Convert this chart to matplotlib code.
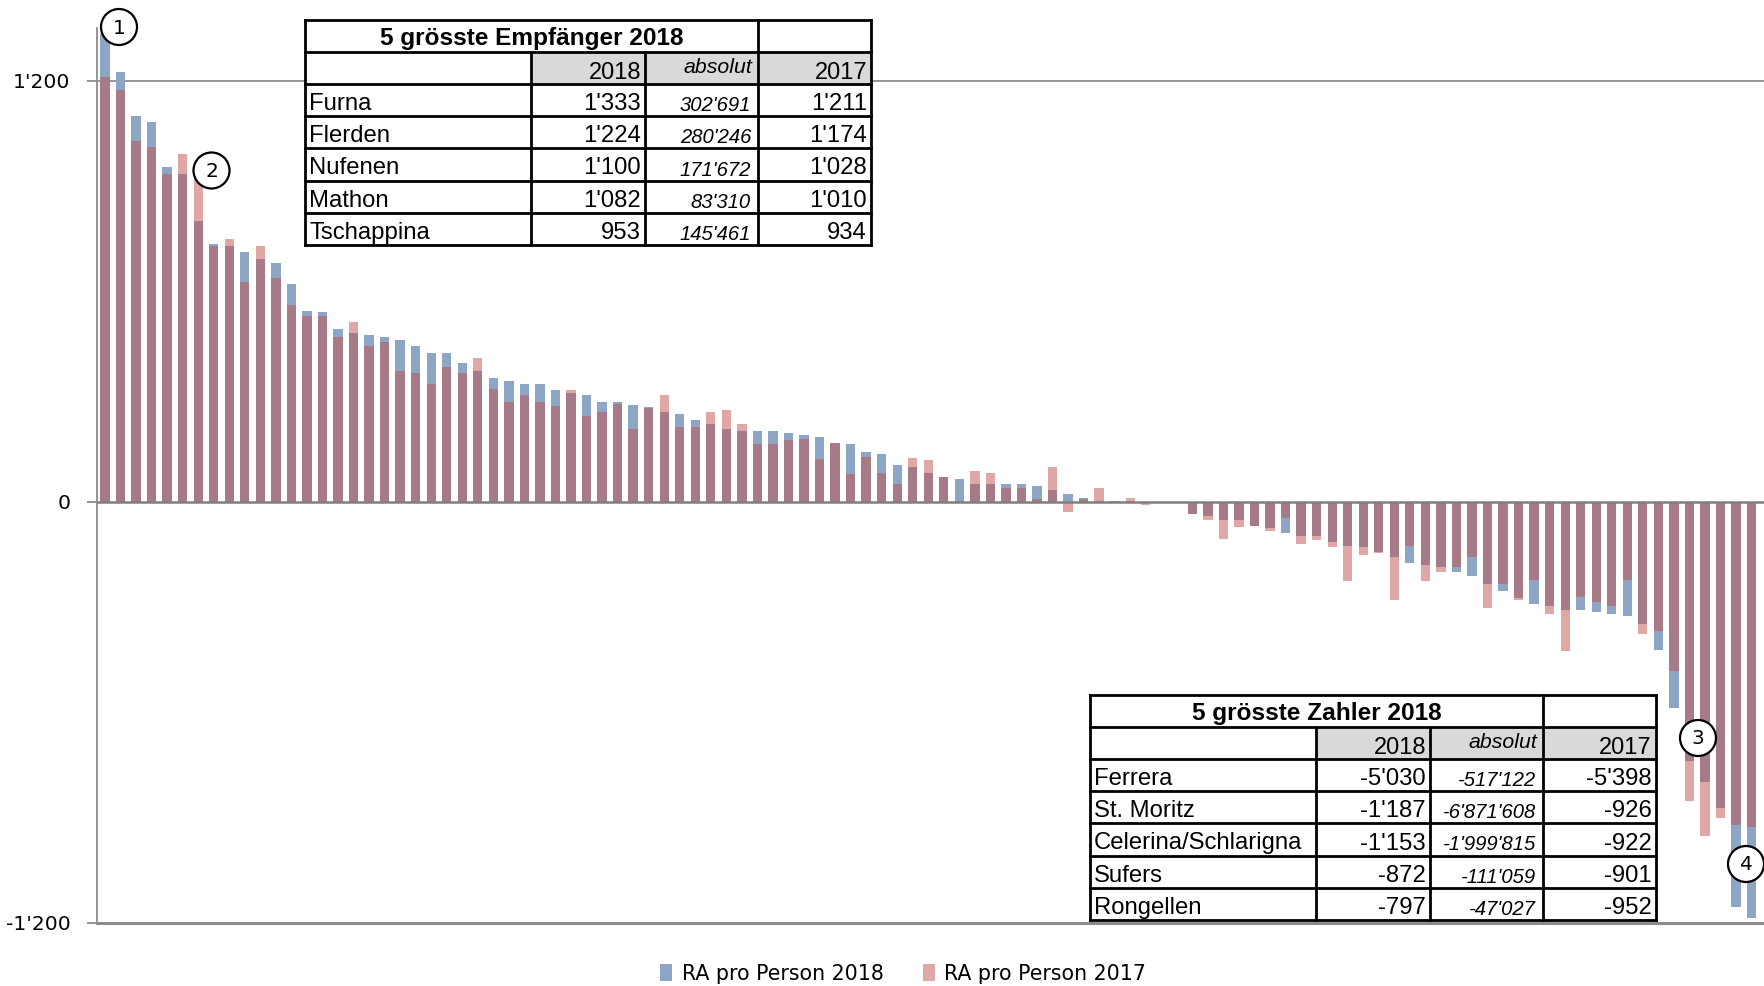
import matplotlib
matplotlib.use("Agg")
import matplotlib.pyplot as plt
from matplotlib.patches import Patch, Rectangle, Circle
import numpy as np

# ---------------- data ----------------
ra_2018 = [1333, 1224, 1100, 1082, 953, 934, 799, 734, 728, 712,
           691, 680, 620, 545, 540, 491, 481, 476, 470, 460,
           443, 423, 423, 395, 374, 352, 343, 336, 336, 320,
           309, 304, 283, 283, 277, 271, 255, 250, 234, 223,
           207, 202, 202, 202, 196, 190, 186, 169, 164, 142,
           137, 105, 99, 83, 71, 66, 50, 50, 50, 50,
           45, 34, 23, 12, 3, 3, 1, -2, 0, 0,
           -36, -41, -51, -51, -68, -74, -88, -98, -98, -115,
           -126, -130, -142, -158, -173, -180, -185, -200, -211, -233,
           -254, -275, -291, -298, -308, -308, -313, -319, -324, -347,
           -421, -588, -738, -797, -872, -1153, -1187]
ra_2017 = [1211, 1174, 1028, 1010, 934, 992, 945, 728, 750, 626,
           728, 637, 562, 529, 529, 469, 513, 443, 455, 374,
           368, 336, 384, 368, 410, 321, 283, 304, 283, 272,
           320, 245, 255, 278, 207, 266, 304, 212, 212, 255,
           261, 223, 164, 164, 175, 180, 121, 169, 78, 127,
           83, 50, 125, 120, 71, 3, 88, 83, 39, 39,
           7, 99, -30, 7, 39, 3, 12, -9, 0, 0,
           -36, -51, -105, -73, -68, -84, -46, -119, -109, -130,
           -227, -151, -147, -281, -126, -227, -200, -185, -158, -302,
           -233, -281, -222, -319, -425, -270, -286, -297, -222, -378,
           -368, -481, -852, -952, -901, -922, -926]

yticks = [-1200, 0, 1200]
ytick_labels = ["-1'200", "0", "1'200"]
legend_labels = ["RA pro Person 2018", "RA pro Person 2017"]

t1_title = "5 grösste Empfänger 2018"
t1_names = ["Furna", "Flerden", "Nufenen", "Mathon", "Tschappina"]
t1_2018 = ["1'333", "1'224", "1'100", "1'082", "953"]
t1_abs = ["302'691", "280'246", "171'672", "83'310", "145'461"]
t1_2017 = ["1'211", "1'174", "1'028", "1'010", "934"]

t2_title = "5 grösste Zahler 2018"
t2_names = ["Ferrera", "St. Moritz", "Celerina/Schlarigna", "Sufers", "Rongellen"]
t2_2018 = ["-5'030", "-1'187", "-1'153", "-872", "-797"]
t2_abs = ["-517'122", "-6'871'608", "-1'999'815", "-111'059", "-47'027"]
t2_2017 = ["-5'398", "-926", "-922", "-901", "-952"]
header = ["2018", "absolut", "2017"]

# ---------------- style ----------------
W, H = 1764, 986
BLUE = "#8EA6C5"
PINK = "#C0504D"
GRID = "#8C8C8C"
plt.rcParams['font.family'] = ['DejaVu Sans']

fig = plt.figure(figsize=(W / 100, H / 100), dpi=100)
ax = fig.add_axes([97 / W, 1 - 923 / H, (W - 97) / W, (923 - 28) / H])

x = np.arange(len(ra_2018))
ax.bar(x, ra_2018, width=0.6, color=BLUE, zorder=2)
ax.bar(x, ra_2017, width=0.6, color=PINK, alpha=0.5, zorder=3)

ax.set_xlim(-0.515, 106.8)
ax.set_ylim(-1200, 1350)
ax.axhline(1200, color=GRID, lw=1.3, zorder=1)
ax.axhline(0, color="#7F7F7F", lw=1.8, zorder=4)
ax.set_xticks([])
ax.set_yticks(yticks)
ax.set_yticklabels(ytick_labels, fontsize=14.6)
ax.tick_params(axis='y', direction='out', length=7, width=1.3, color=GRID, pad=12)
for s in ['top', 'right']:
    ax.spines[s].set_visible(False)
ax.spines['left'].set_color(GRID)
ax.spines['left'].set_linewidth(1.3)
ax.spines['bottom'].set_color(GRID)
ax.spines['bottom'].set_linewidth(2.2)

handles = [Patch(facecolor=BLUE, edgecolor='none'),
           Patch(facecolor=PINK, alpha=0.5, edgecolor='none')]
fig.legend(handles, legend_labels, loc='center', bbox_to_anchor=(903 / W, 1 - 974 / H),
           ncol=2, frameon=False, fontsize=14.8, handlelength=0.6, handleheight=0.9,
           handletextpad=0.45, columnspacing=1.9)

# ---------------- overlay (pixel coordinates) ----------------
ov = fig.add_axes([0, 0, 1, 1], zorder=10)
ov.set_xlim(0, W)
ov.set_ylim(H, 0)
ov.axis('off')
ov.patch.set_alpha(0)


def draw_table(x0, y0, title, names, c2018, cabs, c2017):
    cols = [x0, x0 + 226, x0 + 340, x0 + 453, x0 + 566]
    rh = 32.1
    rows = [y0 + i * rh for i in range(8)]
    lw = 2.0
    ov.add_patch(Rectangle((cols[0], rows[0]), cols[4] - cols[0], rows[7] - rows[0],
                           facecolor='white', edgecolor='none', zorder=1))
    ov.add_patch(Rectangle((cols[1], rows[1]), cols[4] - cols[1], rh,
                           facecolor='#D9D9D9', edgecolor='none', zorder=2))
    for r in rows:
        ov.plot([cols[0], cols[4]], [r, r], color='black', lw=lw, zorder=3,
                solid_capstyle='projecting')
    for c in cols:
        ytop = rows[0] if c in (cols[0], cols[3], cols[4]) else rows[1]
        ov.plot([c, c], [ytop, rows[7]], color='black', lw=lw, zorder=3,
                solid_capstyle='projecting')
    ov.text((cols[0] + cols[3]) / 2, rows[1] - 7, title, ha='center', va='baseline',
            fontsize=17.6, fontweight='bold', family='Liberation Sans', zorder=4)
    ov.text(cols[2] - 4, rows[2] - 5, header[0], ha='right', va='baseline',
            fontsize=17, family='Liberation Sans', zorder=4)
    ov.text(cols[3] - 6, rows[2] - 11, header[1], ha='right', va='baseline',
            fontsize=15.3, style='italic', family='Liberation Sans', zorder=4)
    ov.text(cols[4] - 4, rows[2] - 5, header[2], ha='right', va='baseline',
            fontsize=17, family='Liberation Sans', zorder=4)
    for i in range(5):
        yb = rows[3 + i] - 6
        ov.text(cols[0] + 4, yb, names[i], ha='left', va='baseline',
                fontsize=17.2, family='Liberation Sans', zorder=4)
        ov.text(cols[2] - 4, yb, c2018[i], ha='right', va='baseline',
                fontsize=17.2, family='Liberation Sans', zorder=4)
        ov.text(cols[3] - 7, yb + 1, cabs[i], ha='right', va='baseline',
                fontsize=14.6, style='italic', family='Liberation Sans', zorder=4)
        ov.text(cols[4] - 4, yb, c2017[i], ha='right', va='baseline',
                fontsize=17.2, family='Liberation Sans', zorder=4)


draw_table(305, 20, t1_title, t1_names, t1_2018, t1_abs, t1_2017)
draw_table(1090, 695, t2_title, t2_names, t2_2018, t2_abs, t2_2017)

markers = [("1", 119, 27), ("2", 211.5, 170.5), ("3", 1698, 738), ("4", 1746, 864)]
for lab, cx, cy in markers:
    ov.add_patch(Circle((cx, cy), 18, facecolor='white', edgecolor='black', lw=1.6, zorder=5))
    ov.text(cx, cy + 1, lab, ha='center', va='center', fontsize=14.5, zorder=6)

fig.savefig("out.png", dpi=100)
